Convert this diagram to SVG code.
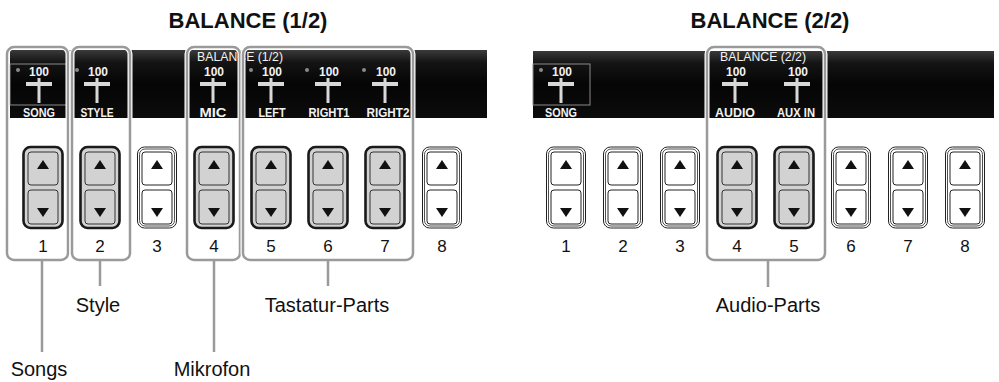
<svg xmlns="http://www.w3.org/2000/svg" xmlns:xlink="http://www.w3.org/1999/xlink" width="999" height="382" viewBox="0 0 999 382">
<style>
.title{font-family:"Liberation Sans",Arial,sans-serif;font-weight:bold;font-size:22px;fill:#111;text-anchor:middle}
.lbl{font-family:"Liberation Sans",Arial,sans-serif;font-size:20px;fill:#111;text-anchor:middle}
.num{font-family:"Liberation Sans",Arial,sans-serif;font-size:17px;fill:#111;text-anchor:middle}
.scr{font-family:"Liberation Sans",Arial,sans-serif;font-size:13.5px;font-weight:bold;fill:#f2f2f2;text-anchor:middle}
.bal{font-family:"Liberation Sans",Arial,sans-serif;font-size:13px;fill:#f2f2f2}
.halo{fill:none;stroke:#fff;stroke-width:5}
.grp{fill:none;stroke:#9a9a9a;stroke-width:2.5}
.conn{stroke:#9a9a9a;stroke-width:2.5;fill:none}
.songbox{fill:none;stroke:#8a8a8a;stroke-width:1}
.bar{fill:#d8d8d8}
.dot{fill:#8a8a8a}
</style>
<defs>
<linearGradient id="scrg" x1="0" y1="0" x2="0" y2="1">
<stop offset="0" stop-color="#3a3a3a"/>
<stop offset="0.18" stop-color="#141414"/>
<stop offset="0.5" stop-color="#050505"/>
<stop offset="1" stop-color="#0c0c0c"/>
</linearGradient>
<g id="slider">
<rect x="-1.5" y="78" width="3" height="25" class="bar"/>
<rect x="-13" y="82" width="26" height="4" class="bar"/>
</g>
<g id="btnSel">
<rect x="-19.5" y="0" width="39" height="81" rx="7" fill="#d2d2d2" stroke="#1a1a1a" stroke-width="2.6"/>
<rect x="-15" y="5" width="30" height="33" rx="3" fill="#d2d2d2" stroke="#333" stroke-width="1"/>
<rect x="-15" y="43" width="30" height="34" rx="3" fill="#d2d2d2" stroke="#333" stroke-width="1"/>
<polygon points="-6,22 6,22 0,13" fill="#111"/>
<polygon points="-6,61 6,61 0,70" fill="#111"/>
</g>
<g id="btnOff">
<rect x="-19.5" y="0" width="39" height="81" rx="7" fill="#fff" stroke="#222" stroke-width="1"/>
<rect x="-17.5" y="2" width="35" height="77" rx="5.5" fill="#fff" stroke="#222" stroke-width="0.8"/>
<rect x="-15" y="5" width="30" height="33" rx="3" fill="#fff" stroke="#222" stroke-width="1"/>
<rect x="-15" y="43" width="30" height="34" rx="3" fill="#fff" stroke="#222" stroke-width="1"/>
<polygon points="-6,22 6,22 0,13" fill="#111"/>
<polygon points="-6,61 6,61 0,70" fill="#111"/>
</g>
</defs>

<g id="titles">
<text class="title" x="248" y="28">BALANCE (1/2)</text>
<text class="title" x="770" y="28">BALANCE (2/2)</text>
</g>

<g id="screen-left">
<rect x="10" y="50" width="477" height="68" fill="url(#scrg)"/>
<rect x="10" y="64" width="57" height="41" class="songbox"/>
<circle class="dot" cx="18" cy="70" r="2"/><text class="scr" x="39" y="76" textLength="20" lengthAdjust="spacingAndGlyphs">100</text><use href="#slider" x="39"/><text class="scr" x="39" y="117" textLength="32" lengthAdjust="spacingAndGlyphs">SONG</text>
<circle class="dot" cx="77" cy="70" r="2"/><text class="scr" x="98" y="76" textLength="20" lengthAdjust="spacingAndGlyphs">100</text><use href="#slider" x="97"/><text class="scr" x="97" y="117" textLength="33" lengthAdjust="spacingAndGlyphs">STYLE</text>
<text class="bal" x="197" y="61" textLength="86" lengthAdjust="spacingAndGlyphs">BALANCE (1/2)</text>
<text class="scr" x="214" y="76" textLength="20" lengthAdjust="spacingAndGlyphs">100</text><use href="#slider" x="213"/><text class="scr" x="213" y="117" textLength="27" lengthAdjust="spacingAndGlyphs">MIC</text>
<circle class="dot" cx="251" cy="70" r="2"/><text class="scr" x="272" y="76" textLength="20" lengthAdjust="spacingAndGlyphs">100</text><use href="#slider" x="271"/><text class="scr" x="272" y="117" textLength="27" lengthAdjust="spacingAndGlyphs">LEFT</text>
<circle class="dot" cx="307" cy="70" r="2"/><text class="scr" x="329" y="76" textLength="20" lengthAdjust="spacingAndGlyphs">100</text><use href="#slider" x="328"/><text class="scr" x="329" y="117" textLength="41" lengthAdjust="spacingAndGlyphs">RIGHT1</text>
<circle class="dot" cx="364" cy="70" r="2"/><text class="scr" x="386" y="76" textLength="20" lengthAdjust="spacingAndGlyphs">100</text><use href="#slider" x="385"/><text class="scr" x="388" y="117" textLength="43" lengthAdjust="spacingAndGlyphs">RIGHT2</text>
</g>

<g id="screen-right">
<rect x="533" y="51" width="461" height="67" fill="url(#scrg)"/>
<rect x="533" y="64" width="57" height="41" class="songbox"/>
<circle class="dot" cx="541" cy="70" r="2"/><text class="scr" x="562" y="76" textLength="20" lengthAdjust="spacingAndGlyphs">100</text><use href="#slider" x="561"/><text class="scr" x="561" y="117" textLength="32" lengthAdjust="spacingAndGlyphs">SONG</text>
<text class="bal" x="720" y="61" textLength="86" lengthAdjust="spacingAndGlyphs">BALANCE (2/2)</text>
<text class="scr" x="736" y="76" textLength="20" lengthAdjust="spacingAndGlyphs">100</text><use href="#slider" x="735"/><text class="scr" x="735" y="117" textLength="40" lengthAdjust="spacingAndGlyphs">AUDIO</text>
<text class="scr" x="798" y="76" textLength="20" lengthAdjust="spacingAndGlyphs">100</text><use href="#slider" x="797"/><text class="scr" x="796" y="117" textLength="38" lengthAdjust="spacingAndGlyphs">AUX IN</text>
</g>

<g id="buttons-left">
<g id="btnL1"><use href="#btnSel" x="43" y="147"/><text class="num" x="43" y="252">1</text></g>
<g id="btnL2"><use href="#btnSel" x="100" y="147"/><text class="num" x="100" y="252">2</text></g>
<g id="btnL3"><use href="#btnOff" x="157" y="147"/><text class="num" x="157" y="252">3</text></g>
<g id="btnL4"><use href="#btnSel" x="214" y="147"/><text class="num" x="214" y="252">4</text></g>
<g id="btnL5"><use href="#btnSel" x="271" y="147"/><text class="num" x="271" y="252">5</text></g>
<g id="btnL6"><use href="#btnSel" x="328" y="147"/><text class="num" x="328" y="252">6</text></g>
<g id="btnL7"><use href="#btnSel" x="385" y="147"/><text class="num" x="385" y="252">7</text></g>
<g id="btnL8"><use href="#btnOff" x="442" y="147"/><text class="num" x="442" y="252">8</text></g>
</g>

<g id="buttons-right">
<g id="btnR1"><use href="#btnOff" x="566" y="147"/><text class="num" x="566" y="252">1</text></g>
<g id="btnR2"><use href="#btnOff" x="623" y="147"/><text class="num" x="623" y="252">2</text></g>
<g id="btnR3"><use href="#btnOff" x="680" y="147"/><text class="num" x="680" y="252">3</text></g>
<g id="btnR4"><use href="#btnSel" x="737" y="147"/><text class="num" x="737" y="252">4</text></g>
<g id="btnR5"><use href="#btnSel" x="794" y="147"/><text class="num" x="794" y="252">5</text></g>
<g id="btnR6"><use href="#btnOff" x="851" y="147"/><text class="num" x="851" y="252">6</text></g>
<g id="btnR7"><use href="#btnOff" x="908" y="147"/><text class="num" x="908" y="252">7</text></g>
<g id="btnR8"><use href="#btnOff" x="965" y="147"/><text class="num" x="965" y="252">8</text></g>
</g>

<g id="group-songs"><rect class="halo" x="7" y="47" width="61" height="213" rx="7"/><rect class="grp" x="7" y="47" width="61" height="213" rx="7"/></g>
<g id="group-style"><rect class="halo" x="72" y="47" width="58" height="213" rx="7"/><rect class="grp" x="72" y="47" width="58" height="213" rx="7"/></g>
<g id="group-mic"><rect class="halo" x="187" y="47" width="53" height="213" rx="7"/><rect class="grp" x="187" y="47" width="53" height="213" rx="7"/></g>
<g id="group-keyboard"><rect class="halo" x="243" y="47" width="170" height="213" rx="7"/><rect class="grp" x="243" y="47" width="170" height="213" rx="7"/></g>
<g id="group-audio"><rect class="halo" x="707" y="47" width="118" height="213" rx="7"/><rect class="grp" x="707" y="47" width="118" height="213" rx="7"/></g>

<g id="connectors">
<line class="conn" x1="42" y1="261" x2="42" y2="352"/>
<line class="conn" x1="100" y1="261" x2="100" y2="286"/>
<line class="conn" x1="214" y1="261" x2="214" y2="352"/>
<line class="conn" x1="328" y1="261" x2="328" y2="286"/>
<line class="conn" x1="768" y1="261" x2="768" y2="287"/>
</g>

<g id="label-songs"><text class="lbl" x="39" y="376">Songs</text></g>
<g id="label-style"><text class="lbl" x="98" y="312">Style</text></g>
<g id="label-mic"><text class="lbl" x="212" y="376">Mikrofon</text></g>
<g id="label-keyboard"><text class="lbl" x="327" y="312">Tastatur-Parts</text></g>
<g id="label-audio"><text class="lbl" x="768" y="312">Audio-Parts</text></g>
</svg>
